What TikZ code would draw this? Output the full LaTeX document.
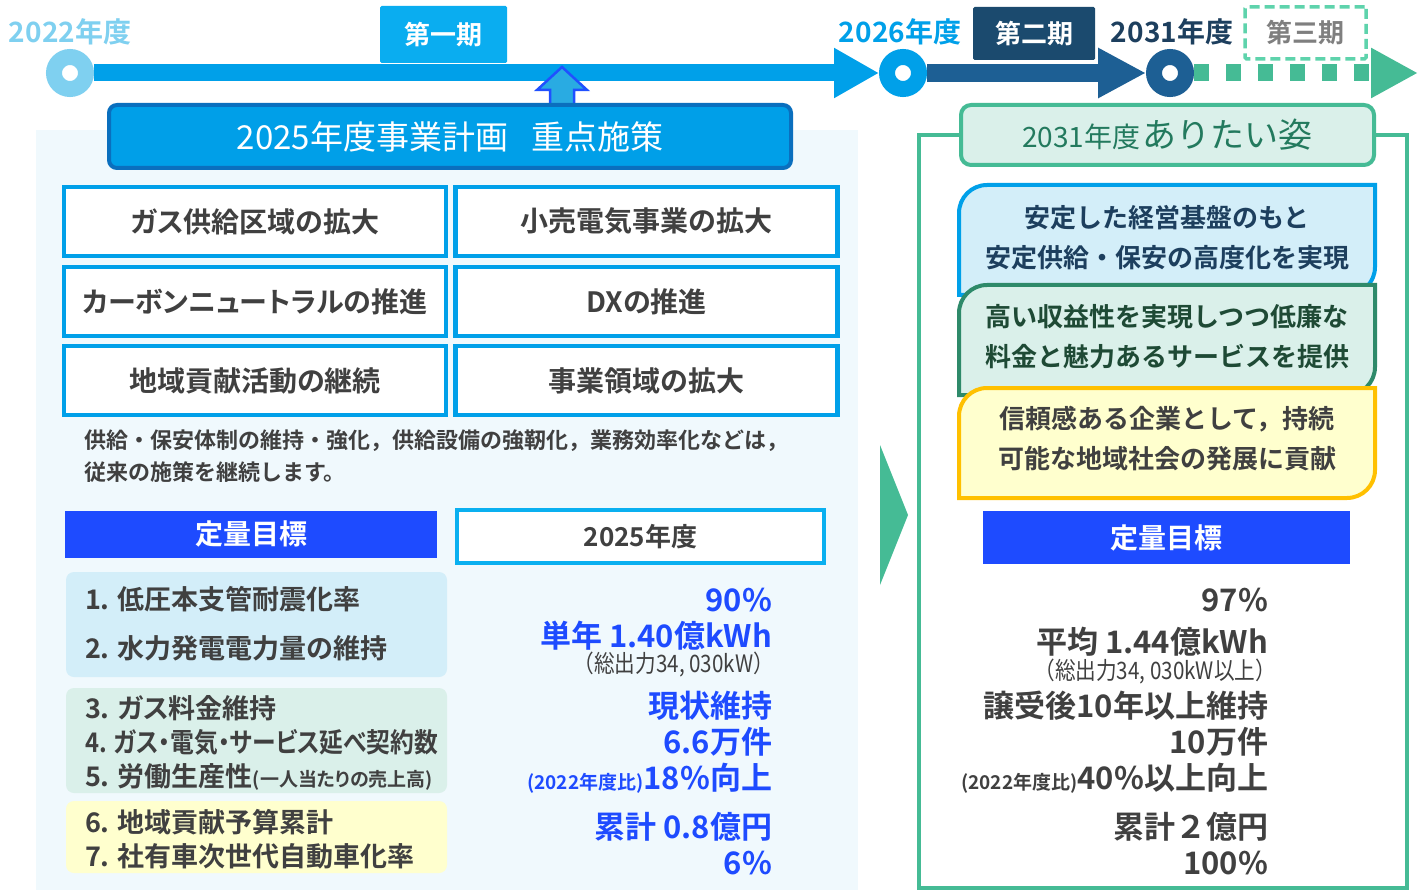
\documentclass[tikz,border=0pt]{standalone}
\usepackage{fontspec}
\setmainfont{Noto Sans CJK JP}[BoldFont={Noto Sans CJK JP Bold}]
\newfontfamily\narrowjp{Noto Sans CJK JP}[FakeStretch=0.86,BoldFont={Noto Sans CJK JP Bold}]
\newfontfamily\paltjp{Noto Sans CJK JP}[RawFeature=+palt,BoldFont={Noto Sans CJK JP Bold}]
\newfontfamily\paltnarrowjp{Noto Sans CJK JP}[RawFeature=+palt,FakeStretch=0.88,BoldFont={Noto Sans CJK JP Bold}]
\usepackage{tikz}
\usetikzlibrary{arrows.meta}
\newcommand{\fsz}[1]{\fontsize{#1}{#1}\selectfont}

\definecolor{lightsky}{HTML}{7FD0F0}
\definecolor{skyblue}{HTML}{00A0E9}
\definecolor{cyanbox}{HTML}{0AADF0}
\definecolor{navybar}{HTML}{1D5F94}
\definecolor{navybox}{HTML}{1B4A6E}
\definecolor{navytext}{HTML}{1D3F5E}
\definecolor{mint}{HTML}{45BB95}
\definecolor{mintlight}{HTML}{5ED3AC}
\definecolor{royal}{HTML}{1E4BFF}
\definecolor{panelbg}{HTML}{F0F9FD}
\definecolor{textgray}{HTML}{404040}
\definecolor{phasegray}{HTML}{7F7F7F}
\definecolor{paleblue}{HTML}{D3EEF9}
\definecolor{palegreen}{HTML}{DAF0EA}
\definecolor{paleyellow}{HTML}{FFFFCE}
\definecolor{gold}{HTML}{FFC000}
\definecolor{darkgreen}{HTML}{2E8A6A}
\definecolor{greentext}{HTML}{1E4A35}
\definecolor{titlegreen}{HTML}{237A5E}
\definecolor{headfill}{HTML}{009FE8}
\definecolor{headline}{HTML}{0A6FBE}
\definecolor{arrowfill}{HTML}{29ABE2}
\definecolor{arrowline}{HTML}{2050FF}
\definecolor{frameblue}{HTML}{0AB0F0}

\begin{document}
\begin{tikzpicture}[x=1pt, y=-1pt, every node/.style={inner sep=0pt, outer sep=0pt},
		ring/.style={circle, line width=16pt, fill=white, minimum size=32pt, outer sep=8pt},
		year/.style={font=\bfseries\fsz{28}},
		phasebox/.style={rounded corners=1.5pt, font=\bfseries\fsz{26}},
		policy/.style={draw=skyblue, line width=4.5pt, fill=white, minimum width=382pt, minimum height=69pt, text=textgray, font=\paltjp\bfseries\fsz{28}},
		goalhead/.style={fill=royal, text=white, minimum width=#1, minimum height=47pt, font=\bfseries\fsz{28}},
		group/.style={rounded corners=8pt, minimum width=381pt},
		item/.style={anchor=west, text=textgray, font=\paltjp\bfseries\fsz{27}},
		value/.style={anchor=east, font=\bfseries\fsz{31}},
		capacity/.style={anchor=east, text=textgray, font=\narrowjp\fsz{24}},
		visiontext/.style={align=center, font=\bfseries\fontsize{26}{40}\selectfont}]
	\useasboundingbox (0,0) rectangle (1423,890);
	\fill[white] (0,0) rectangle (1423,890);

	% Timeline
	\node[ring, draw=lightsky] (y22) at (70,73) {};
	\node[ring, draw=skyblue] (y26) at (903,73) {};
	\node[ring, draw=navybar] (y31) at (1170,73) {};
	\coordinate (y36) at (1418,73);
	\draw[skyblue, line width=17pt, -{Triangle[length=45pt,width=47pt]}] (y22) -- (y26);
	\draw[navybar, line width=18pt, -{Triangle[length=48pt,width=47pt]}] (y26) -- (y31);
	\draw[mint, line width=17pt, dash pattern=on 15pt off 17pt, -{Triangle[length=47pt,width=47pt]}] (y31) -- (y36);

	\node[year, text=lightsky] (t22) at (70,32) {2022年度};
	\node[year, text=skyblue] (t26) at (900,32) {2026年度};
	\node[year, text=navytext] (t31) at (1172,32) {2031年度};

	\node[phasebox, fill=cyanbox, text=white, minimum width=127pt, minimum height=57pt] (p1) at (443.5,34.5) {第一期};
	\node[phasebox, fill=navybox, text=white, minimum width=122pt, minimum height=53pt] (p2) at (1034,33.5) {第二期};
	\node[phasebox, draw=mintlight, line width=3.5pt, dash pattern=on 10pt off 5pt, fill=white, text=phasegray, minimum width=121pt, minimum height=52pt] (p3) at (1305.5,33) {第三期};

	% Left panel
	\fill[panelbg] (36,130) rectangle (858,890);
	\filldraw[fill=arrowfill, draw=arrowline, line width=2.5pt] (550,106) -- (550,90) -- (537,90) -- (562,67) -- (587,90) -- (574,90) -- (574,106) -- cycle;
	\node[draw=headline, line width=4pt, fill=headfill, rounded corners=8pt, minimum width=682pt, minimum height=63pt, text=white, font=\fsz{33}] (plan) at (450,136.5) {2025年度事業計画\hspace{0.7em}重点施策};

	\node[policy] (gas) at (255,221.5) {ガス供給区域の拡大};
	\node[policy] (elec) at (646.5,221.5) {小売電気事業の拡大};
	\node[policy] (carbon) at (255,301.5) {カーボンニュートラルの推進};
	\node[policy] (dx) at (646.5,301.5) {DXの推進};
	\node[policy] (local) at (255,380.5) {地域貢献活動の継続};
	\node[policy] (biz) at (646.5,380.5) {事業領域の拡大};

	\node[anchor=west, text=textgray, font=\bfseries\fsz{22}] (note1) at (84,441) {供給・保安体制の維持・強化，供給設備の強靭化，業務効率化などは，};
	\node[anchor=west, text=textgray, font=\bfseries\fsz{22}] (note2) at (84,472) {従来の施策を継続します。};

	\node[goalhead=372pt] (goal1) at (251,534) {定量目標};
	\node[draw=frameblue, line width=4pt, fill=white, minimum width=367pt, minimum height=53pt, text=textgray, font=\bfseries\fsz{26}] (fy25) at (640.5,536.5) {2025年度};

	\node[group, fill=paleblue, minimum height=105pt] (grp1) at (256.5,624.5) {};
	\node[group, fill=palegreen, minimum height=105pt] (grp2) at (256.5,740.5) {};
	\node[group, fill=paleyellow, minimum height=72pt] (grp3) at (256.5,837) {};

	\node[item] (i1) at (85,599) {1. 低圧本支管耐震化率};
	\node[item] (i2) at (85,648) {2. 水力発電電力量の維持};
	\node[item] (i3) at (85,708) {3. ガス料金維持};
	\node[item, font=\paltnarrowjp\bfseries\fsz{27}] (i4) at (85,742) {4. ガス・電気・サービス延べ契約数};
	\node[item] (i5) at (85,777) {5. 労働生産性{\fsz{19}(一人当たりの売上高)}};
	\node[item] (i6) at (85,822) {6. 地域貢献予算累計};
	\node[item] (i7) at (85,856) {7. 社有車次世代自動車化率};

	\node[value, text=royal] (a1) at (772,600) {90\%};
	\node[value, text=royal] (a2) at (772,636) {単年 1.40億kWh};
	\node[capacity] (a2s) at (774,665) {（総出力34, 030kW）};
	\node[value, text=royal] (a3) at (772,706) {現状維持};
	\node[value, text=royal] (a4) at (772,742) {6.6万件};
	\node[value, text=royal] (a5) at (772,778) {{\fsz{19}(2022年度比)}18\%向上};
	\node[value, text=royal] (a6) at (772,827) {累計 0.8億円};
	\node[value, text=royal] (a7) at (772,863) {6\%};

	% Right panel
	\fill[mint] (880,445) -- (908,515) -- (880,585) -- cycle;
	\draw[mint, line width=4pt] (919,135) rectangle (1407,888);
	\node[draw=mint, line width=4pt, fill=palegreen, rounded corners=10pt, minimum width=413pt, minimum height=60pt, text=titlegreen] (vision) at (1167.5,135) {{\fsz{28}2031年度} {\fsz{34}ありたい姿}};

	\filldraw[fill=paleblue, draw=skyblue, line width=4pt] (959,213) arc (180:270:28) -- (1375,185) -- (1375,267) arc (0:90:28) -- (959,295) -- cycle;
	\node[visiontext, text=navytext] (v1) at (1167,237.5) {安定した経営基盤のもと\\安定供給・保安の高度化を実現};
	\filldraw[fill=palegreen, draw=darkgreen, line width=4pt] (959,313) arc (180:270:28) -- (1375,285) -- (1375,367) arc (0:90:28) -- (959,395) -- cycle;
	\node[visiontext, text=greentext] (v2) at (1167,337) {高い収益性を実現しつつ低廉な\\料金と魅力あるサービスを提供};
	\filldraw[fill=paleyellow, draw=gold, line width=4pt] (959,416) arc (180:270:28) -- (1375,388) -- (1375,470) arc (0:90:28) -- (959,498) -- cycle;
	\node[visiontext, text=textgray] (v3) at (1167,439) {信頼感ある企業として，持続\\可能な地域社会の発展に貢献};

	\node[goalhead=367pt, minimum height=53pt] (goal2) at (1166.5,537.5) {定量目標};

	\node[value, text=textgray] (b1) at (1268,600) {97\%};
	\node[value, text=textgray] (b2) at (1268,642) {平均 1.44億kWh};
	\node[capacity] (b2s) at (1276,672) {（総出力34, 030kW以上）};
	\node[value, text=textgray] (b3) at (1268,706) {譲受後10年以上維持};
	\node[value, text=textgray] (b4) at (1268,742) {10万件};
	\node[value, text=textgray] (b5) at (1268,778) {{\fsz{19}(2022年度比)}40\%以上向上};
	\node[value, text=textgray] (b6) at (1268,827) {累計２億円};
	\node[value, text=textgray] (b7) at (1268,863) {100\%};
\end{tikzpicture}
\end{document}
